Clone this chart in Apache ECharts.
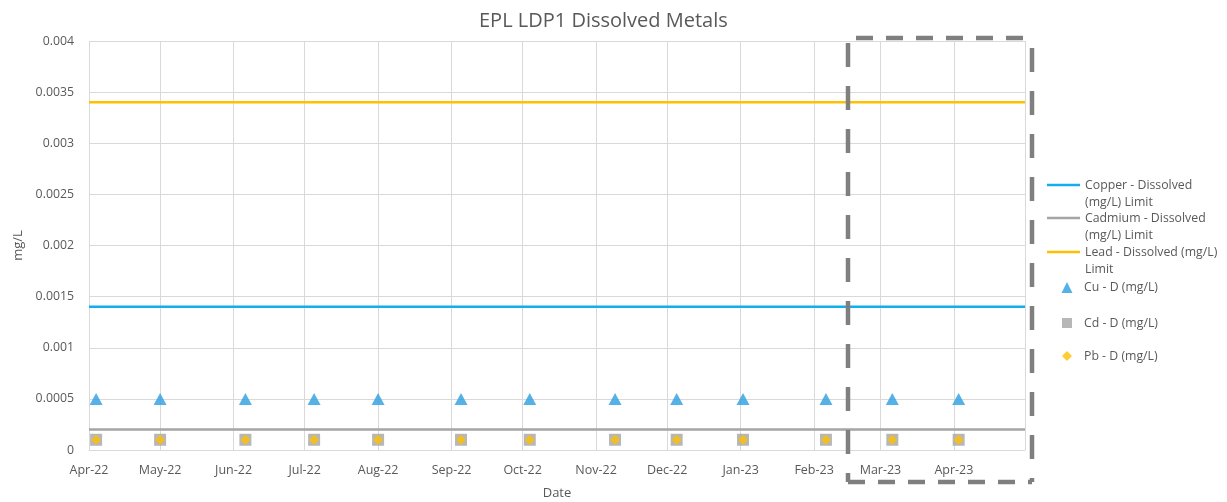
<!DOCTYPE html>
<html>
<head>
<meta charset="utf-8">
<script src="https://cdn.jsdelivr.net/npm/echarts@6/dist/echarts.min.js"></script>
<style>
html,body{margin:0;padding:0;background:#fff;}
#c{width:1227px;height:502px;}
</style>
</head>
<body>
<div id="c"></div>
<script>
// ---- data ----
var sampleDates = [
  [2022,4,4],[2022,5,1],[2022,6,6],[2022,7,5],[2022,8,1],[2022,9,5],[2022,10,4],
  [2022,11,9],[2022,12,5],[2023,1,2],[2023,2,6],[2023,3,6],[2023,4,3]
];
var cuValues = [0.0005,0.0005,0.0005,0.0005,0.0005,0.0005,0.0005,0.0005,0.0005,0.0005,0.0005,0.0005,0.0005];
var cdValues = [0.0001,0.0001,0.0001,0.0001,0.0001,0.0001,0.0001,0.0001,0.0001,0.0001,0.0001,0.0001,0.0001];
var pbValues = [0.0001,0.0001,0.0001,0.0001,0.0001,0.0001,0.0001,0.0001,0.0001,0.0001,0.0001,0.0001,0.0001];
var copperLimit = 0.0014;
var cadmiumLimit = 0.0002;
var leadLimit = 0.0034;
var axisStart = [2022,4,1];
var axisEnd = [2023,5,1];
var monthNames = ['Jan','Feb','Mar','Apr','May','Jun','Jul','Aug','Sep','Oct','Nov','Dec'];

function d(a){ return new Date(a[0], a[1]-1, a[2]).getTime(); }
var xMin = d(axisStart), xMax = d(axisEnd);
function pts(vals){ return sampleDates.map(function(t,i){ return [d(t), vals[i]]; }); }
function limitLine(v){ return [[xMin, v],[xMax, v]]; }

var names = {
  cuL: 'Copper - Dissolved (mg/L) Limit',
  cdL: 'Cadmium - Dissolved (mg/L) Limit',
  pbL: 'Lead - Dissolved (mg/L) Limit',
  cu: 'Cu - D (mg/L)',
  cd: 'Cd - D (mg/L)',
  pb: 'Pb - D (mg/L)'
};
var legendText = {};
legendText[names.cuL] = '\nCopper - Dissolved\n(mg/L) Limit';
legendText[names.cdL] = '\nCadmium - Dissolved\n(mg/L) Limit';
legendText[names.pbL] = '\nLead - Dissolved (mg/L)\nLimit';

var FONT = 'Open Sans';
var TXT = '#595959';
var LFS = 12.3;

function lineLegend(name, iconY){
  return {
    data:[{name:name, icon:'rect'}], left:1047, top:iconY - 25.5, padding:0, orient:'vertical',
    itemWidth:33, itemHeight:2.5,
    formatter:function(n){ return legendText[n] || n; },
    textStyle:{color:TXT, fontFamily:FONT, fontSize:LFS, lineHeight:17}
  };
}
function symLegend(name, iconY, w){
  return {
    data:[name], left:1067 - w/2, top:iconY - w/2, padding:0,
    itemWidth:w, itemHeight:w,
    textStyle:{color:TXT, fontFamily:FONT, fontSize:LFS, padding:[0,0,0,12 - w/2]}
  };
}

var chart = echarts.init(document.getElementById('c'));
chart.setOption({
  animation:false,
  backgroundColor:'#fff',
  title:{
    text:'EPL LDP1 Dissolved Metals', left:474, top:6,
    textStyle:{color:TXT, fontFamily:FONT, fontSize:20, fontWeight:'normal'}
  },
  grid:{left:89, right:202, top:41, bottom:52, containLabel:false, outerBoundsMode:'none'},
  legend:[
    lineLegend(names.cuL, 185),
    lineLegend(names.cdL, 218),
    lineLegend(names.pbL, 252),
    symLegend(names.cu, 287, 11),
    symLegend(names.cd, 322, 10),
    symLegend(names.pb, 355, 10)
  ],
  xAxis:{
    type:'time', min:xMin, max:xMax, splitNumber:13,
    minInterval:28*86400000, maxInterval:31*86400000,
    name:'Date', nameLocation:'middle', nameGap:37,
    nameTextStyle:{color:TXT, fontFamily:FONT, fontSize:13},
    axisLine:{show:true, lineStyle:{color:'#d9d9d9', width:1}},
    axisTick:{show:false},
    splitLine:{show:true, lineStyle:{color:'#d9d9d9', width:1}},
    axisLabel:{
      color:TXT, fontFamily:FONT, fontSize:12.5, margin:14,
      showMinLabel:true, hideOverlap:false,
      formatter:function(v){
        if (v >= xMax) return '';
        var dt=new Date(v); return monthNames[dt.getMonth()] + '-' + String(dt.getFullYear()).slice(2);
      }
    }
  },
  yAxis:{
    type:'value', min:0, max:0.004, interval:0.0005,
    name:'mg/L', nameLocation:'middle', nameGap:62, nameRotate:90,
    nameTextStyle:{color:TXT, fontFamily:FONT, fontSize:13},
    axisLine:{show:false}, axisTick:{show:false},
    splitLine:{show:true, lineStyle:{color:'#d9d9d9', width:1}},
    axisLabel:{color:TXT, fontFamily:FONT, fontSize:12.3, margin:15,
      formatter:function(v){ return String(+v.toFixed(4)); }}
  },
  series:[
    {name:names.cuL, type:'line', data:limitLine(copperLimit), symbol:'none',
      lineStyle:{color:'#12aeef', width:2.5}, itemStyle:{color:'#12aeef'}, z:3},
    {name:names.cdL, type:'line', data:limitLine(cadmiumLimit), symbol:'none',
      lineStyle:{color:'#a5a5a5', width:2.5}, itemStyle:{color:'#a5a5a5'}, z:3},
    {name:names.pbL, type:'line', data:limitLine(leadLimit), symbol:'none',
      lineStyle:{color:'#ffc000', width:2.5}, itemStyle:{color:'#ffc000'}, z:3},
    {name:names.cu, type:'scatter', data:pts(cuValues), symbol:'triangle', symbolSize:[13,12],
      itemStyle:{color:'#2a9fe0'}, z:4},
    {name:names.cd, type:'scatter', data:pts(cdValues), symbol:'rect', symbolSize:12,
      itemStyle:{color:'#a5a5a5'}, z:4},
    {name:names.pb, type:'scatter', data:pts(pbValues), symbol:'diamond', symbolSize:10,
      itemStyle:{color:'#ffc000'}, z:5}
  ],
  graphic:[
    {type:'line', shape:{x1:848,y1:43,x2:848,y2:482}, style:{stroke:'#7f7f7f', lineWidth:4.5, lineDash:[24,19]}, z:100},
    {type:'line', shape:{x1:848,y1:482,x2:1032,y2:482}, style:{stroke:'#7f7f7f', lineWidth:4.5, lineDash:[17,13]}, z:100},
    {type:'line', shape:{x1:1032,y1:48,x2:1032,y2:482}, style:{stroke:'#7f7f7f', lineWidth:4.5, lineDash:[24,19]}, z:100},
    {type:'line', shape:{x1:856,y1:38,x2:1032,y2:38}, style:{stroke:'#7f7f7f', lineWidth:4.5, lineDash:[17,13]}, z:100}
  ]
});
</script>
</body>
</html>
